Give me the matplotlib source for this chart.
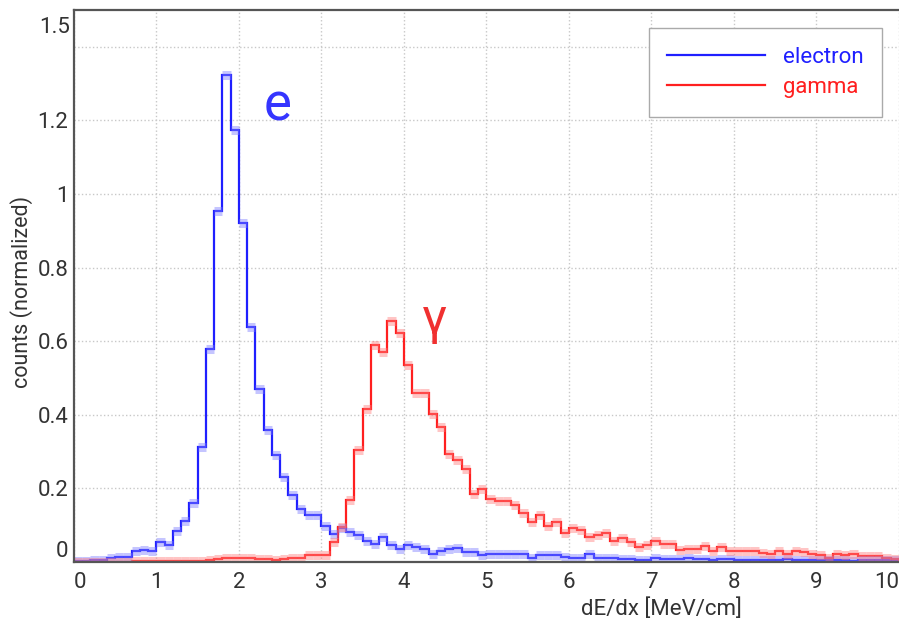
import matplotlib.pyplot as plt
import numpy as np

plt.rcParams['font.family'] = ['Roboto', 'DejaVu Sans']

# histogram bins: 0 .. 10 MeV/cm, width 0.1
edges = np.linspace(0, 10, 101)

electron = [
    0.002, 0.003, 0.006, 0.006, 0.010, 0.013, 0.013, 0.029, 0.033, 0.030,
    0.054, 0.046, 0.085, 0.112, 0.160, 0.312, 0.580, 0.955, 1.324, 1.174,
    0.922, 0.639, 0.471, 0.360, 0.290, 0.231, 0.181, 0.145, 0.127, 0.127,
    0.097, 0.077, 0.093, 0.081, 0.072, 0.056, 0.050, 0.068, 0.045, 0.036,
    0.045, 0.040, 0.036, 0.022, 0.031, 0.034, 0.039, 0.027, 0.027, 0.018,
    0.022, 0.022, 0.022, 0.022, 0.022, 0.010, 0.019, 0.019, 0.018, 0.014,
    0.011, 0.011, 0.022, 0.011, 0.010, 0.010, 0.007, 0.007, 0.005, 0.005,
    0.011, 0.007, 0.007, 0.007, 0.011, 0.007, 0.007, 0.005, 0.007, 0.007,
    0.005, 0.005, 0.005, 0.006, 0.006, 0.006, 0.007, 0.005, 0.005, 0.005,
    0.005, 0.005, 0.005, 0.005, 0.002, 0.005, 0.005, 0.005, 0.005, 0.005,
]

gamma = [
    0.000, 0.001, 0.001, 0.001, 0.000, 0.000, 0.000, 0.003, 0.003, 0.003,
    0.003, 0.003, 0.003, 0.003, 0.003, 0.003, 0.006, 0.008, 0.012, 0.010,
    0.010, 0.010, 0.007, 0.009, 0.006, 0.009, 0.010, 0.012, 0.018, 0.020,
    0.020, 0.054, 0.095, 0.169, 0.305, 0.417, 0.589, 0.571, 0.655, 0.621,
    0.535, 0.458, 0.458, 0.401, 0.367, 0.294, 0.276, 0.254, 0.184, 0.199,
    0.172, 0.165, 0.165, 0.154, 0.133, 0.108, 0.127, 0.097, 0.108, 0.078,
    0.093, 0.088, 0.068, 0.072, 0.078, 0.058, 0.066, 0.054, 0.040, 0.045,
    0.056, 0.050, 0.050, 0.033, 0.036, 0.036, 0.043, 0.031, 0.040, 0.031,
    0.029, 0.029, 0.029, 0.024, 0.022, 0.029, 0.022, 0.031, 0.027, 0.022,
    0.018, 0.011, 0.022, 0.018, 0.022, 0.015, 0.015, 0.015, 0.011, 0.009,
]

fig = plt.figure(figsize=(8.99, 6.27), dpi=100)
ax = fig.add_axes([0.0823, 0.1037, 0.9177, 0.8803])

blue = '#1f1fff'
red = '#ff1f1f'

# error boxes (light) then the step line
ax.hlines(electron, edges[:-1], edges[1:], colors='#8080ff', lw=6.5, alpha=0.45)
ax.hlines(gamma, edges[:-1], edges[1:], colors='#ff8080', lw=6.5, alpha=0.45)
ax.stairs(electron, edges, color=blue, lw=1.6, label='electron')
ax.stairs(gamma, edges, color=red, lw=1.6, label='gamma')

ax.text(2.47, 1.20, 'e', color='#3535ff', fontsize=38, ha='center', va='baseline')
ax.text(4.37, 0.62, 'γ', color='#f03030', fontsize=36, ha='center', va='baseline')

ax.set_xlim(0, 10)
ax.set_ylim(0, 1.5)

xt = np.arange(0, 11, 1)
ax.set_xticks(xt, [str(v) for v in xt])
yt = [0, 0.2, 0.4, 0.6, 0.8, 1.0, 1.2, 1.4]
ax.set_yticks(yt, ['0', '0.2', '0.4', '0.6', '0.8', '1', '1.2', ''])
ax.tick_params(which='both', length=0, labelsize=16, labelcolor='#333333')
ax.tick_params(axis='x', pad=7)
ax.tick_params(axis='y', pad=4)
for lab in ax.get_yticklabels():
    if lab.get_text() == '0':
        lab.set_va('bottom')
xlabs = ax.get_xticklabels()
xlabs[0].set_ha('left')
xlabs[-1].set_ha('right')
# top label sits just below the frame
ax.annotate('1.5', xy=(0, 1.5), xycoords=('axes fraction', 'data'),
            xytext=(-3, -12.5), textcoords='offset points',
            ha='right', va='center', fontsize=16, color='#333333')

ax.grid(True, which='major', ls=':', color='#c8c8c8', lw=1)
ax.set_axisbelow(True)

for s in ['left', 'bottom', 'top']:
    ax.spines[s].set_color('#555555')
    ax.spines[s].set_linewidth(1.6)
ax.spines['right'].set_visible(False)

ax.set_xlabel('dE/dx [MeV/cm]', fontsize=16, color='#333333', ha='right')
ax.xaxis.set_label_coords(0.809, -0.066)
ax.set_ylabel('counts (normalized)', fontsize=15.5, color='#333333')
ax.yaxis.set_label_coords(-0.05, 0.49)

leg = ax.legend(loc='upper right', bbox_to_anchor=(0.98, 0.967), fontsize=16,
                handlelength=4.4, fancybox=False, framealpha=1,
                edgecolor='#aaaaaa', borderpad=0.85, labelspacing=0.4,
                borderaxespad=0)
for txt, c in zip(leg.get_texts(), [blue, red]):
    txt.set_color(c)

plt.savefig('out.png', dpi=100)
